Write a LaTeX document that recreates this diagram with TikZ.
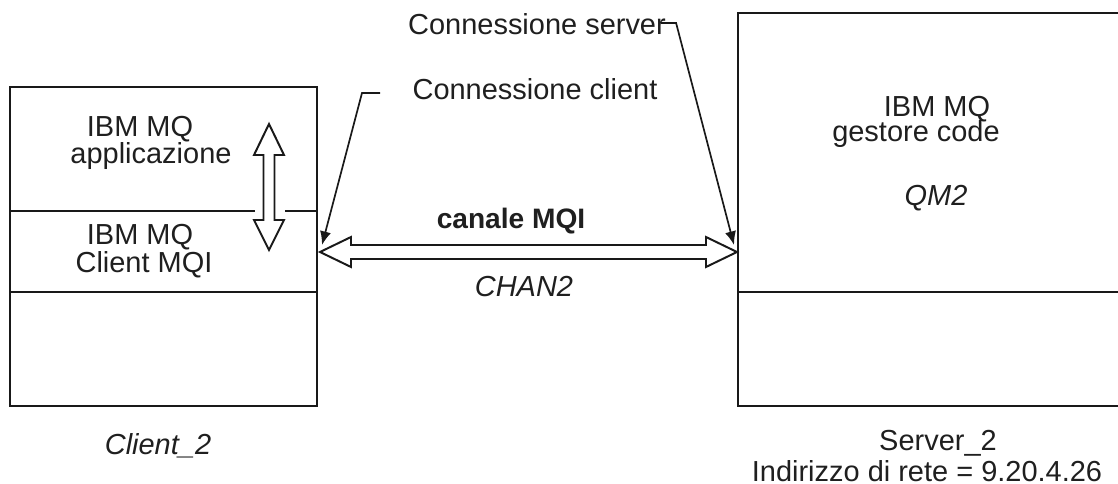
\documentclass[tikz,border=0pt]{standalone}
\usepackage{fontspec}
\setmainfont{Liberation Sans}
\usepackage{tikz}
\usetikzlibrary{arrows.meta, calc}

\begin{document}
\begin{tikzpicture}[
  x=0.025cm, y=-0.025cm,
  lbl/.style={anchor=base, inner sep=0pt, text=black!88, font=\fontsize{20.6}{25}\selectfont},
  ital/.style={lbl, font=\fontsize{20.6}{25}\selectfont\itshape},
  frame/.style={draw=black!90, line width=1.4pt},
  hollow/.style={draw=black!90, line width=1.4pt, fill=white, line join=miter},
  leader/.style={draw=black!90, line width=1.2pt, -{Latex[length=3.4mm,width=2.8mm]}},
]
\clip (0,0) rectangle (1118,484);

% client machine
\draw[frame] (10,87) rectangle (317,406);
\draw[frame] (10,211) -- (255,211);
\draw[frame] (285,211) -- (317,211);
\draw[frame] (10,292) -- (317,292);

% server machine
\draw[frame] (738,13) rectangle (1140,406);
\draw[frame] (738,292) -- (1140,292);

\node[lbl] (appA) at (140,137) {IBM MQ};
\node[lbl] (appB) at (151,164) {applicazione};
\node[lbl] (cliA) at (140,245) {IBM MQ};
\node[lbl] (cliB) at (144,273) {Client MQI};
\node[ital] (client) at (158,455) {Client\_2};

\node[lbl] (qmA) at (937,117) {IBM MQ};
\node[lbl] (qmB) at (916,142) {gestore code};
\node[ital] (qmC) at (936,206) {QM2};
\node[lbl] (srvA) at (938,450) {Server\_2};
\node[lbl] (srvB) at (927,481) {Indirizzo di rete = 9.20.4.26};

\node[lbl, font=\fontsize{20}{24}\selectfont\bfseries] (chan) at (511,229) {canale MQI};
\node[ital] (chanB) at (524,297) {CHAN2};
\node[lbl] (conS) at (537,35) {Connessione server};
\node[lbl] (conC) at (535,100) {Connessione client};

% hollow arrows
\coordinate (appT) at (269,124);
\coordinate (appD) at (269,250);
\draw[hollow] (appT) -- ++(15,31) -- ++(-9.5,0) -- ($(appD)+(5.5,-30)$) -- ++(9.5,0)
  -- (appD) -- ++(-15,-30) -- ++(9.5,0) -- ($(appT)+(-5.5,31)$) -- ++(-9.5,0) -- cycle;

\coordinate (chanL) at (320,252);
\coordinate (chanR) at (737,252);
\draw[hollow] (chanL) -- ++(31,-15) -- ++(0,8) -- ($(chanR)+(-31,-7)$) -- ++(0,-8)
  -- (chanR) -- ++(-31,15) -- ++(0,-8) -- ($(chanL)+(31,7)$) -- ++(0,8) -- cycle;

% leaders
\coordinate (conCend) at (380,93);
\draw[leader] (conCend) -- (362,93) -- ($(chanL)+(2,-7)$);
\draw[leader] ($(conS.base east)+(-5,-12)$) -- ++(15,0) -- ($(chanR)+(-3,-7)$);
\end{tikzpicture}
\end{document}
